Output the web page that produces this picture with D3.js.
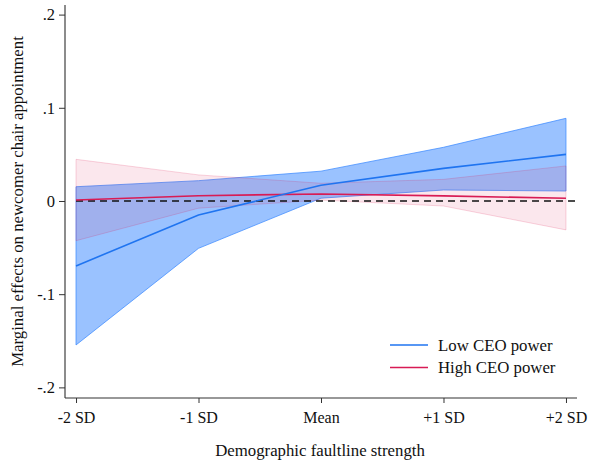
<!DOCTYPE html>
<html>
<head>
<meta charset="utf-8">
<script src="https://cdn.jsdelivr.net/npm/d3@7"></script>
<style>
  body { margin: 0; background: #fff; }
  svg { display: block; font-family: "Liberation Serif", "DejaVu Serif", serif; }
</style>
</head>
<body>
<svg id="chart" width="589" height="465"></svg>
<script>
const categories = ["-2 SD", "-1 SD", "Mean", "+1 SD", "+2 SD"];
const yTicks = [-0.2, -0.1, 0, 0.1, 0.2];
const yTickLabels = ["-.2", "-.1", "0", ".1", ".2"];

// low CEO power: estimate and CI bounds
const lowEst   = [-0.0697, -0.0150, 0.0168, 0.0350, 0.0500];
const lowUpper = [ 0.0153,  0.0218, 0.0320, 0.0576, 0.0887];
const lowLower = [-0.1545, -0.0508, 0.0030, 0.0118, 0.0107];

// high CEO power
const highEst   = [ 0.0010, 0.0057, 0.0075, 0.0055, 0.0029];
const highUpper = [ 0.0447, 0.0280, 0.0190, 0.0232, 0.0376];
const highLower = [-0.0426, -0.0077, 0.0010, -0.0054, -0.0310];

const seriesNames = ["Low CEO power", "High CEO power"];

(() => {
  const svg = d3.select("#chart");
  const pL = 65, pR = 577, pT = 5, pB = 398;

  const x = d3.scaleLinear().domain([-0.09, 4.09]).range([pL, pR]);
  const y = d3.scaleLinear().domain([-0.2114, 0.2103]).range([pB, pT]);

  const idx = d3.range(categories.length);
  const BLUE = "#1f74f0", RED = "#d81b55";

  // bands
  const area = (lo, hi) => d3.area()
    .x(i => x(i))
    .y0(i => y(lo[i]))
    .y1(i => y(hi[i]));

  svg.append("path").datum(idx)
    .attr("d", area(lowLower, lowUpper))
    .attr("fill", "#3d8bff").attr("fill-opacity", 0.52)
    .attr("stroke", "#3d8bff").attr("stroke-opacity", 0.75).attr("stroke-width", 1);

  svg.append("path").datum(idx)
    .attr("d", area(highLower, highUpper))
    .attr("fill", "#dc1450").attr("fill-opacity", 0.1)
    .attr("stroke", "#dc1450").attr("stroke-opacity", 0.18).attr("stroke-width", 1);

  // zero reference line
  svg.append("line")
    .attr("x1", x(0)).attr("x2", pR)
    .attr("y1", y(0)).attr("y2", y(0))
    .attr("stroke", "#111").attr("stroke-width", 1.4)
    .attr("stroke-dasharray", "7 5");

  // estimate lines
  const line = vals => d3.line().x(i => x(i)).y(i => y(vals[i]));
  svg.append("path").datum(idx).attr("d", line(highEst))
    .attr("fill", "none").attr("stroke", RED).attr("stroke-width", 1.6);
  svg.append("path").datum(idx).attr("d", line(lowEst))
    .attr("fill", "none").attr("stroke", BLUE).attr("stroke-width", 1.6);

  // axes
  const yAxis = d3.axisLeft(y).tickValues(yTicks)
    .tickFormat((d, i) => yTickLabels[i]).tickSize(6).tickPadding(4);
  const gy = svg.append("g").attr("transform", `translate(${pL},0)`).call(yAxis);
  gy.select(".domain").attr("d", `M0,${pT}V${pB}`).attr("stroke", "#666").attr("stroke-width", 1.5);
  gy.selectAll(".tick line").attr("stroke", "#333");
  gy.selectAll(".tick text").attr("font-size", 16.5).attr("fill", "#111")
    .attr("font-family", "Liberation Serif");

  const xAxis = d3.axisBottom(x).tickValues(idx)
    .tickFormat(i => categories[i]).tickSize(5).tickPadding(9);
  const gx = svg.append("g").attr("transform", `translate(0,${pB})`).call(xAxis);
  gx.select(".domain").attr("d", `M${pL},0H${pR}`).attr("stroke", "#333").attr("stroke-width", 1.2);
  gx.selectAll(".tick line").attr("stroke", "#333");
  gx.selectAll(".tick text").attr("font-size", 16).attr("fill", "#111")
    .attr("font-family", "Liberation Serif");

  // titles
  svg.append("text")
    .attr("x", 320).attr("y", 456)
    .attr("text-anchor", "middle").attr("font-size", 16.8).attr("fill", "#111")
    .text("Demographic faultline strength");

  svg.append("text")
    .attr("transform", `translate(23,${(pT + pB) / 2}) rotate(-90)`)
    .attr("text-anchor", "middle").attr("font-size", 16.8).attr("fill", "#111")
    .text("Marginal effects on newcomer chair appointment");

  // legend
  const legend = svg.append("g");
  [BLUE, RED].forEach((c, i) => {
    const ly = 345 + i * 22.5;
    legend.append("line").attr("x1", 390).attr("x2", 428)
      .attr("y1", ly).attr("y2", ly).attr("stroke", c).attr("stroke-width", 1.6);
    legend.append("text").attr("x", 438).attr("y", ly + 5.5)
      .attr("font-size", 16.8).attr("fill", "#111").text(seriesNames[i]);
  });
})();
</script>
</body>
</html>
